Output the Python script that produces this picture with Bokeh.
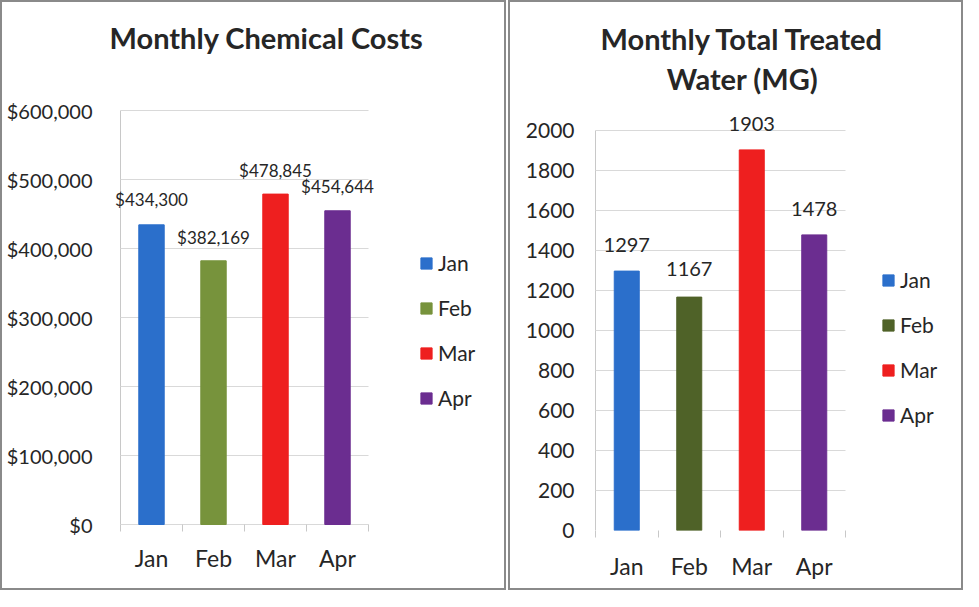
from bokeh.plotting import figure
from bokeh.models import (ColumnDataSource, Range1d, NumeralTickFormatter, FixedTicker,
                          LabelSet, Label, Legend, LegendItem, SingleIntervalTicker)
from bokeh.core.properties import value
from bokeh.layouts import row
from bokeh.embed import file_html
from bokeh.resources import INLINE

months = ["Jan", "Feb", "Mar", "Apr"]
chem_costs = [434300, 382169, 478845, 454644]
chem_labels = ["$434,300", "$382,169", "$478,845", "$454,644"]
water_mg = [1297, 1167, 1903, 1478]
water_labels = ["1297", "1167", "1903", "1478"]

chem_colors = ["#2B6FCB", "#77933C", "#EE1F1F", "#6B2D90"]
water_colors = ["#2B6FCB", "#4F6228", "#EE1F1F", "#6B2D90"]
chem_label_dy = [25, 23, 24, 24]
water_label_dy = [26, 28, 26, 26]

FONT = "Lato"
TXT = "#262626"
AXIS_GRAY = "#c8c8c8"


def make_panel(values, labels, colors, dy, ytop, ystep, fmt, w, h, bl, bb, x0, y0,
               px_per_cat, px_per_unit_y, bar_w, titles, lab_size, ytick_size,
               leg_loc, standoff_y, standoff_x):
    n = len(months)
    frame_w = w - bl
    frame_h = h - bb
    x_start = -(x0 - bl) / px_per_cat
    x_end = x_start + frame_w / px_per_cat
    drop = (h - bb) - y0
    y_start = -drop / px_per_unit_y
    y_end = y_start + frame_h / px_per_unit_y
    p = figure(x_range=Range1d(x_start, x_end), y_range=Range1d(y_start, y_end),
               width=w, height=h, output_backend="svg", toolbar_location=None, title=None,
               min_border_left=bl, min_border_right=0, min_border_top=0, min_border_bottom=bb)
    p.styles = {"border": "2px solid #8a8a8a", "box-sizing": "border-box"}
    xs = [i + 0.5 for i in range(n)]
    src = ColumnDataSource(dict(x=xs, v=values, lab=labels, c=colors, dy=dy))
    r = p.vbar(x="x", top="v", width=bar_w, color="c", source=src)
    p.add_layout(LabelSet(x="x", y="v", text="lab", source=src, y_offset="dy",
                          text_align="center", text_baseline="middle",
                          text_font=value(FONT), text_font_size=value(lab_size),
                          text_color=TXT))
    for txt, off in titles:
        p.add_layout(Label(x=n / 2, y=ytop, text=txt, x_offset=22, y_offset=off,
                           text_align="center", text_baseline="middle",
                           text_font=FONT, text_font_style="bold", text_font_size="29px",
                           text_color=TXT))
    items = [LegendItem(label=m, renderers=[r], index=i) for i, m in enumerate(months)]
    leg = Legend(items=items, location=leg_loc, orientation="vertical",
                 glyph_width=14, glyph_height=14, label_height=25, spacing=20,
                 padding=0, margin=0, border_line_color=None, background_fill_alpha=0,
                 label_text_font=FONT, label_text_font_size="21px", label_text_color=TXT,
                 label_standoff=5)
    p.add_layout(leg, "center")

    # horizontal grid (incl. the zero line), limited to the category area
    g = p.ygrid[0]
    g.ticker = SingleIntervalTicker(interval=ystep)
    g.bounds = (0, ytop)
    g.cross_bounds = (0, n)
    g.grid_line_color = "#d9d9d9"
    # vertical value-axis line at x = 0
    vg = p.xgrid[0]
    vg.ticker = FixedTicker(ticks=[0])
    vg.cross_bounds = (0, ytop)
    vg.grid_line_color = AXIS_GRAY
    p.outline_line_color = None

    # y axis
    p.yaxis.ticker = SingleIntervalTicker(interval=ystep)
    p.yaxis.bounds = (0, ytop)
    if fmt:
        p.yaxis.formatter = NumeralTickFormatter(format=fmt)
    p.yaxis.major_label_text_font_size = ytick_size
    p.yaxis.minor_tick_line_color = None

    # x axis
    p.xaxis.ticker = FixedTicker(ticks=xs, minor_ticks=[float(i) for i in range(n + 1)])
    p.xaxis.major_label_overrides = {x: m for x, m in zip(xs, months)}
    p.xaxis.minor_tick_line_color = AXIS_GRAY
    p.xaxis.minor_tick_in = int(drop)
    p.xaxis.minor_tick_out = max(1, 7 - int(drop))
    p.xaxis.major_label_text_font_size = "23px"

    for ax in (p.xaxis, p.yaxis):
        ax.axis_line_color = None
        ax.major_tick_line_color = None
        ax.major_tick_out = 0
        ax.major_tick_in = 0
        ax.major_label_text_font = FONT
        ax.major_label_text_color = TXT
    p.yaxis.major_label_standoff = standoff_y
    p.xaxis.major_label_standoff = standoff_x
    return p


p1 = make_panel(chem_costs, chem_labels, chem_colors, chem_label_dy,
                600000, 100000, "$0,0", 506, 590, 102, 62, 118, 522,
                62.0, 414 / 600000, 0.41,
                [("Monthly Chemical Costs", 73)], "17px", "20px", (315, 120), 8, 12)
p2 = make_panel(water_mg, water_labels, water_colors, water_label_dy,
                2000, 200, None, 455, 590, 82, 62, 85, 528,
                62.5, 400 / 2000, 0.40,
                [("Monthly Total Treated", 92), ("Water (MG)", 52)], "20px", "21px",
                (289, 103), 14, 14)

layout = row(p1, p2, spacing=2)
open("out.html", "w").write(file_html(layout, INLINE))
